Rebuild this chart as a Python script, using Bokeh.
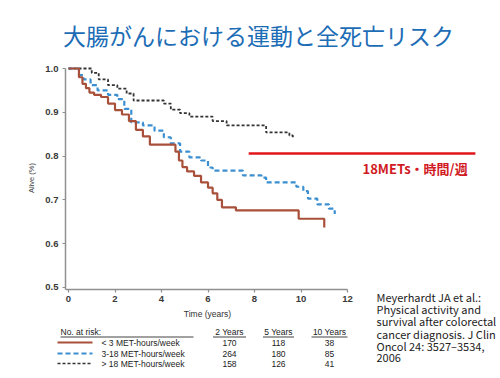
from bokeh.plotting import figure
from bokeh.layouts import column
from bokeh.models import Range1d, FixedTicker, NumeralTickFormatter, GridBox
from bokeh.embed import file_html
from bokeh.resources import INLINE
from bokeh.core.properties import value

title_text = "大腸がんにおける運動と全死亡リスク"

# Kaplan-Meier curves (time in years, proportion alive)
low_t = [0, 0.45, 0.6, 0.75, 0.9, 1.1, 1.4, 1.7, 2.0, 2.3, 2.6, 2.9, 3.2, 3.5,
         4.6, 4.75, 4.9, 5.1, 5.4, 5.7, 6.0, 6.2, 6.4, 6.6, 7.2, 9.9, 11.0]
low_s = [1.0, 0.98, 0.965, 0.955, 0.945, 0.94, 0.935, 0.92, 0.905, 0.895, 0.88,
         0.86, 0.845, 0.826, 0.81, 0.79, 0.775, 0.765, 0.755, 0.74, 0.728, 0.715,
         0.70, 0.683, 0.676, 0.657, 0.637]

mid_t = [0, 0.45, 0.65, 0.95, 1.25, 1.7, 2.1, 2.4, 2.7, 3.2, 3.7, 4.1, 4.4, 4.8,
         5.2, 5.7, 6.0, 6.2, 7.5, 8.3, 8.5, 9.8, 10.1, 10.3, 10.7, 11.2, 11.45]
mid_s = [1.0, 0.985, 0.975, 0.962, 0.95, 0.94, 0.93, 0.908, 0.877, 0.87, 0.858,
         0.843, 0.829, 0.81, 0.797, 0.79, 0.774, 0.767, 0.756, 0.751, 0.74, 0.73,
         0.72, 0.703, 0.69, 0.68, 0.668]

high_t = [0, 1.0, 1.3, 1.7, 2.1, 2.5, 2.8, 4.1, 4.4, 4.8, 5.2, 6.2, 6.8, 8.5, 9.5, 9.65]
high_s = [1.0, 0.99, 0.975, 0.962, 0.954, 0.943, 0.927, 0.92, 0.906, 0.898, 0.89,
          0.88, 0.87, 0.854, 0.847, 0.843]

x_ticks = [0, 2, 4, 6, 8, 10, 12]
y_ticks = [0.5, 0.6, 0.7, 0.8, 0.9, 1.0]

ref_line_x = [7.75, 17.5]
ref_line_y = [0.806, 0.806]
ref_label = "18METs・時間/週"

risk_groups = ["< 3 MET-hours/week", "3-18 MET-hours/week", "> 18 MET-hours/week"]
risk_headers = ["2 Years", "5 Years", "10 Years"]
risk_2y = [170, 264, 158]
risk_5y = [118, 180, 126]
risk_10y = [38, 85, 41]

citation = ["Meyerhardt JA et al.:", "Physical activity and",
            "survival after colorectal", "cancer diagnosis. J Clin",
            "Oncol 24: 3527\u20133534,", "2006"]

RED = "#a9503a"
BLUE = "#3b8fd0"
BLACK = "#333333"

W, H = 498, 376

# ---------------- main survival plot ----------------
p = figure(width=W, height=H, x_range=Range1d(-0.129, 18.15),
           y_range=Range1d(0.4954, 1.0046), output_backend="svg",
           toolbar_location=None, min_border_left=65, min_border_right=W - 490,
           min_border_top=66, min_border_bottom=H - 289)
p.grid.visible = False
p.outline_line_color = None
p.background_fill_color = "white"
p.border_fill_color = "white"

for ax in (p.xaxis[0], p.yaxis[0]):
    ax.axis_line_color = "#8f8f8f"
    ax.axis_line_width = 1.5
    ax.major_tick_line_color = "#8f8f8f"
    ax.major_tick_line_width = 1.2
    ax.major_tick_out = 3
    ax.major_tick_in = 0
    ax.minor_tick_line_color = None
    ax.major_label_text_font = "Liberation Sans"
    ax.major_label_text_font_size = "9.5px"
    ax.major_label_text_font_style = "bold"
    ax.major_label_text_color = "#3a3a3a"

p.xaxis.ticker = FixedTicker(ticks=x_ticks)
p.xaxis.bounds = (-0.13, 12)
p.xaxis.major_label_standoff = 3
p.yaxis.ticker = FixedTicker(ticks=y_ticks)
p.yaxis.formatter = NumeralTickFormatter(format="0.0")
p.yaxis.bounds = (0.4954, 1.0)
p.yaxis.major_label_standoff = 4
p.yaxis.axis_label = "Alive (%)"
p.yaxis.axis_label_text_font = "Liberation Sans"
p.yaxis.axis_label_text_font_size = "7.5px"
p.yaxis.axis_label_text_font_style = "normal"
p.yaxis.axis_label_text_color = "#444444"
p.yaxis.axis_label_standoff = 6

p.step(high_t, high_s, mode="after", line_color=BLACK, line_width=1.8, line_dash="3 2")
p.step(mid_t, mid_s, mode="after", line_color=BLUE, line_width=2.2, line_dash="5 3")
p.step(low_t, low_s, mode="after", line_color=RED, line_width=2.2)

p.line(ref_line_x, ref_line_y, line_color="#e0161b", line_width=2.5)
p.text(x=[(362 - 68) / 23.25], y=[1 - (167.5 - 68) / 438], text=[ref_label],
       text_align="left", text_baseline="middle",
       text_font=value("Noto Sans CJK JP"), text_font_style="bold",
       text_font_size="13px", text_color="#d11a1f")

# ---------------- overlay for texts outside the plot frame (pixel coords) ----------------
ov = figure(width=W, height=H, x_range=Range1d(0, W), y_range=Range1d(H, 0),
            output_backend="svg", toolbar_location=None, min_border=0,
            x_axis_location=None, y_axis_location=None)
ov.grid.visible = False
ov.outline_line_color = None
ov.background_fill_color = None
ov.border_fill_color = None

ov.text(x=[258], y=[34], text=[title_text], text_align="center", text_baseline="middle",
        text_font=value("Noto Sans CJK JP"), text_font_size="23px", text_color="#1c6db6")

TF = value("Liberation Sans")
TC = "#222222"
TS = "8.5px"

ov.text(x=[207], y=[313], text=["Time (years)"], text_align="center",
        text_baseline="middle", text_font=TF, text_font_size=TS, text_color="#333333")

ov.text(x=[60], y=[331], text=["No. at risk:"], text_align="left",
        text_baseline="middle", text_font=TF, text_font_size=TS, text_color=TC)

header_x = [229, 278, 329]
header_w = [33, 31, 36]
ov.text(x=header_x, y=[331] * 3, text=risk_headers, text_align="center",
        text_baseline="middle", text_font=TF, text_font_size=TS, text_color=TC)
ul_x0 = [60] + [hx - hw / 2 for hx, hw in zip(header_x, header_w)]
ul_x1 = [193] + [hx + hw / 2 for hx, hw in zip(header_x, header_w)]
ov.segment(x0=ul_x0, y0=[336.5] * 4, x1=ul_x1, y1=[336.5] * 4,
           line_color="#444444", line_width=1.2)

row_y = [342, 353, 363]
row_style = [(RED, "solid", 2.2), (BLUE, "5 3", 2.0), (BLACK, "3 2", 1.6)]
for i, ry in enumerate(row_y):
    col, dash, lw = row_style[i]
    ov.line(x=[57, 92], y=[ry, ry], line_color=col, line_width=lw, line_dash=dash)
ov.text(x=[101] * 3, y=row_y, text=risk_groups, text_align="left",
        text_baseline="middle", text_font=TF, text_font_size=TS, text_color=TC)
for hx, vals in zip(header_x, (risk_2y, risk_5y, risk_10y)):
    ov.text(x=[hx] * 3, y=row_y, text=[str(v) for v in vals], text_align="center",
            text_baseline="middle", text_font=TF, text_font_size=TS, text_color=TC)

cite_y = [296.5 + 12.2 * k for k in range(len(citation))]
ov.text(x=[376] * len(citation), y=cite_y, text=citation, text_align="left",
        text_baseline="middle", text_font=value("Noto Sans CJK JP"),
        text_font_size="11px", text_color="#222222")

layout = GridBox(children=[(p, 0, 0), (column(ov), 0, 0)])
open("out.html", "w").write(file_html(layout, INLINE))
